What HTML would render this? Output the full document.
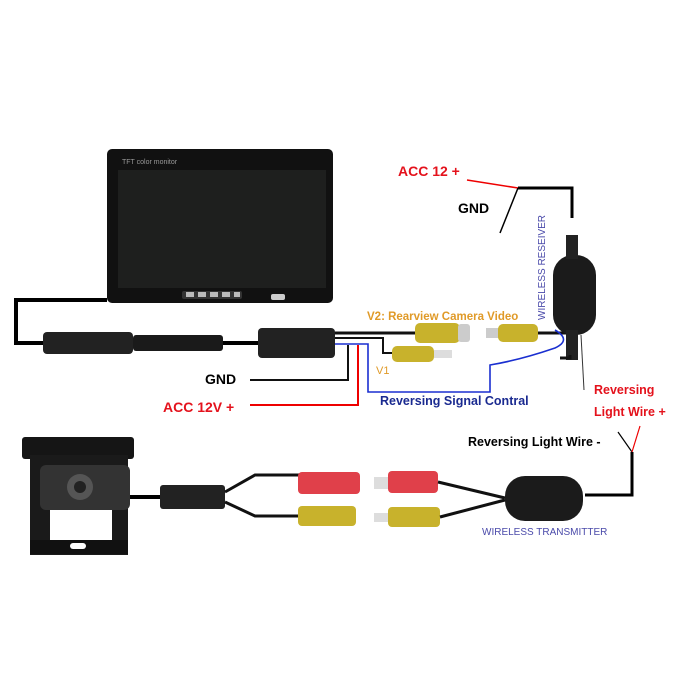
<!DOCTYPE html>
<html><head><meta charset="utf-8"><style>
html,body{margin:0;padding:0;background:#fff;}
svg{display:block;}
text{font-family:"Liberation Sans",sans-serif;}
</style></head><body>
<svg width="700" height="700" viewBox="0 0 700 700" xmlns="http://www.w3.org/2000/svg">
<rect width="700" height="700" fill="#fff"/>
<!-- monitor -->
<rect x="107" y="149" width="226" height="154" rx="5" fill="#111"/>
<rect x="118" y="170" width="208" height="118" fill="#1e1f1e"/>
<text x="122" y="164" font-size="7" fill="#999" font-family="Liberation Serif">TFT color monitor</text>
<rect x="182" y="291" width="60" height="8" rx="2" fill="#333"/>
<rect x="186" y="292" width="8" height="5" fill="#bbb"/><rect x="198" y="292" width="8" height="5" fill="#bbb"/><rect x="210" y="292" width="8" height="5" fill="#bbb"/><rect x="222" y="292" width="8" height="5" fill="#bbb"/><rect x="234" y="292" width="6" height="5" fill="#bbb"/>
<rect x="271" y="294" width="14" height="6" rx="2" fill="#ccc"/>
<!-- left cable -->
<polyline points="107,300 16,300 16,343 45,343" fill="none" stroke="#000" stroke-width="4"/>
<rect x="43" y="332" width="90" height="22" rx="4" fill="#222"/>
<rect x="133" y="335" width="90" height="16" rx="3" fill="#1a1a1a"/>
<line x1="223" y1="343" x2="260" y2="343" stroke="#000" stroke-width="4"/>
<rect x="258" y="328" width="77" height="30" rx="4" fill="#222"/>
<!-- wires from connector -->
<line x1="335" y1="333" x2="418" y2="333" stroke="#111" stroke-width="3"/>
<polyline points="335,338 383,338 383,353 393,353" fill="none" stroke="#111" stroke-width="2"/>
<!-- V1 rca -->
<rect x="392" y="346" width="42" height="16" rx="5" fill="#c8b22c"/>
<rect x="434" y="350" width="18" height="8" fill="#ddd"/>
<!-- V2 female -->
<rect x="415" y="323" width="45" height="20" rx="5" fill="#c8b22c"/>
<rect x="458" y="324" width="12" height="18" rx="3" fill="#ccc"/>
<rect x="486" y="328" width="14" height="10" fill="#ccc"/>
<rect x="498" y="324" width="40" height="18" rx="5" fill="#c8b22c"/>
<line x1="538" y1="333" x2="570" y2="333" stroke="#111" stroke-width="3"/>
<line x1="570" y1="333" x2="570" y2="355" stroke="#111" stroke-width="3"/>
<!-- receiver -->
<polyline points="572,218 572,188 518,188" fill="none" stroke="#000" stroke-width="3"/>
<line x1="518" y1="188" x2="467" y2="180" stroke="#e00" stroke-width="1.5"/>
<line x1="518" y1="188" x2="500" y2="233" stroke="#000" stroke-width="1.5"/>
<rect x="553" y="255" width="43" height="80" rx="20" fill="#1b1b1b"/>
<rect x="566" y="235" width="12" height="24" fill="#222"/>
<rect x="566" y="330" width="12" height="30" fill="#222"/>
<line x1="581" y1="335" x2="584" y2="390" stroke="#333" stroke-width="1"/>
<polyline points="570,355 570,358 560,358" fill="none" stroke="#111" stroke-width="3"/>
<!-- blue wire -->
<path d="M335,344 L368,344 L368,392 L490,392 L490,365 Q520,360 555,348 Q572,340 555,330" fill="none" stroke="#1a2fd0" stroke-width="1.6"/>
<!-- red & gnd lines -->
<polyline points="358,345 358,405 250,405" fill="none" stroke="#e00" stroke-width="2"/>
<polyline points="348,345 348,380 250,380" fill="none" stroke="#111" stroke-width="2"/>
<text x="398" y="176" font-size="14" font-weight="bold" fill="#e4121c">ACC 12 +</text>
<text x="458" y="213" font-size="14" font-weight="bold" fill="#000">GND</text>
<text x="0" y="0" font-size="10" fill="#4a4aaa" transform="translate(545,320) rotate(-90)">WIRELESS RESEIVER</text>
<text x="367" y="320" font-size="11.5" font-weight="bold" fill="#e09a28">V2: Rearview Camera Video</text>
<text x="376" y="374" font-size="11" fill="#e09a28">V1</text>
<text x="205" y="384" font-size="14" font-weight="bold" fill="#000">GND</text>
<text x="163" y="412" font-size="14" font-weight="bold" fill="#e4121c">ACC 12V +</text>
<text x="380" y="405" font-size="12.5" font-weight="bold" fill="#1a2a90">Reversing Signal Contral</text>
<text x="594" y="394" font-size="12.5" font-weight="bold" fill="#e4121c">Reversing</text>
<text x="594" y="416" font-size="12.5" font-weight="bold" fill="#e4121c">Light Wire +</text>
<text x="468" y="446" font-size="12.5" font-weight="bold" fill="#000">Reversing Light Wire -</text>
<line x1="618" y1="432" x2="632" y2="452" stroke="#000" stroke-width="1.2"/>
<line x1="640" y1="426" x2="632" y2="452" stroke="#e00" stroke-width="1.2"/>
<polyline points="632,452 632,495 585,495" fill="none" stroke="#000" stroke-width="3"/>
<!-- camera -->
<rect x="22" y="437" width="112" height="22" rx="3" fill="#151515"/>
<rect x="30" y="455" width="98" height="100" fill="#1a1a1a"/>
<rect x="50" y="493" width="62" height="48" fill="#fff"/>
<rect x="40" y="465" width="90" height="45" rx="6" fill="#333"/>
<circle cx="80" cy="487" r="13" fill="#555"/><circle cx="80" cy="487" r="6" fill="#222"/>
<rect x="30" y="540" width="98" height="14" fill="#111"/>
<rect x="70" y="543" width="16" height="6" rx="3" fill="#fff"/>
<line x1="130" y1="497" x2="162" y2="497" stroke="#000" stroke-width="4"/>
<rect x="160" y="485" width="65" height="24" rx="3" fill="#222"/>
<polyline points="225,492 255,475 300,475" fill="none" stroke="#111" stroke-width="3"/>
<polyline points="225,502 255,516 300,516" fill="none" stroke="#111" stroke-width="3"/>
<rect x="298" y="472" width="62" height="22" rx="4" fill="#e0404a"/>
<rect x="298" y="506" width="58" height="20" rx="4" fill="#c8b22c"/>
<rect x="374" y="477" width="16" height="12" fill="#ddd"/>
<rect x="388" y="471" width="50" height="22" rx="4" fill="#e0404a"/>
<rect x="374" y="513" width="16" height="9" fill="#ddd"/>
<rect x="388" y="507" width="52" height="20" rx="4" fill="#c8b22c"/>
<line x1="438" y1="482" x2="505" y2="498" stroke="#111" stroke-width="3"/>
<line x1="440" y1="517" x2="505" y2="500" stroke="#111" stroke-width="3"/>
<rect x="505" y="476" width="78" height="45" rx="20" fill="#1b1b1b"/>
<text x="482" y="535" font-size="10" fill="#4a4aaa">WIRELESS TRANSMITTER</text>
</svg>
</body></html>
